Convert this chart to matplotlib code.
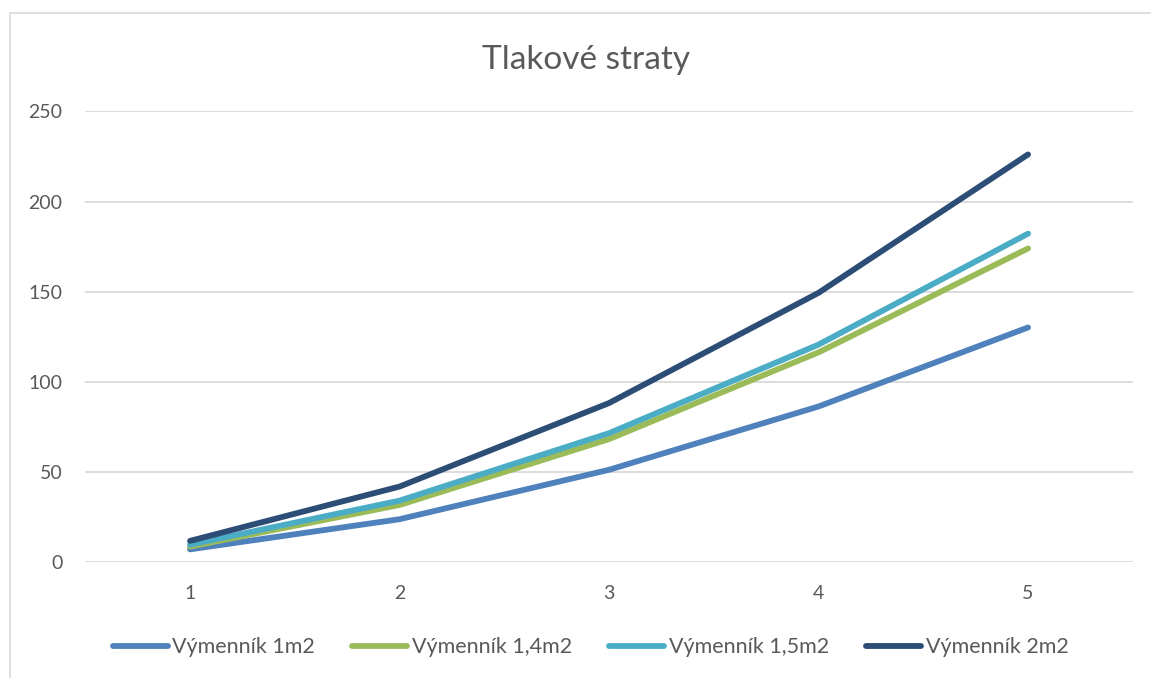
import numpy as np
import matplotlib
matplotlib.use("Agg")
import matplotlib.pyplot as plt
from matplotlib.patches import Rectangle

# data
categories = [1, 2, 3, 4, 5]
v_1m2 = [7.2, 23.9, 51.3, 86.4, 130.2]
v_14m2 = [8.7, 31.8, 68.3, 116.4, 174.0]
v_15m2 = [9.8, 34.2, 71.6, 120.7, 182.2]
v_2m2 = [11.9, 42.0, 88.3, 149.4, 226.1]
labels = ["Výmenník 1m2", "Výmenník 1,4m2", "Výmenník 1,5m2", "Výmenník 2m2"]
colors = ["#4F81BD", "#9BBB59", "#4BACC6", "#2C4D75"]

plt.rcParams['font.family'] = ['Lato', 'DejaVu Sans']
txt = "#595959"

fig = plt.figure(figsize=(11.51, 6.78), dpi=100)
# outer chart border
fig.patches.append(Rectangle((10 / 1151, -0.1), 1.2, 1 - 13 / 678 + 0.1,
                             transform=fig.transFigure, fill=False,
                             edgecolor="#D9D9D9", linewidth=1.2))

ax = fig.add_axes([0.0741, 0.1706, 0.9101, 0.6652])
x = np.arange(len(categories))
for vals, lab, c in zip([v_1m2, v_14m2, v_15m2, v_2m2], labels, colors):
    ax.plot(x, vals, color=c, linewidth=4.2, label=lab,
            solid_capstyle='round', solid_joinstyle='round')

ax.set_xlim(-0.5, len(categories) - 0.5)
ax.set_ylim(0, 250)
ax.set_yticks(range(0, 251, 50))
ax.set_xticks(x)
ax.set_xticklabels([str(c) for c in categories])
ax.grid(axis='y', color="#D9D9D9", linewidth=1.3)
ax.set_axisbelow(True)
for s in ax.spines.values():
    s.set_visible(False)
ax.tick_params(length=0, labelsize=14, colors=txt)
ax.tick_params(axis='y', pad=16.5)
ax.tick_params(axis='x', pad=16)

fig.text(0.509, 0.9115, "Tlakové straty", ha='center', va='center',
         fontsize=24, color=txt)

leg = fig.legend(loc='center', bbox_to_anchor=(0.513, 0.045), ncol=4,
                 frameon=False, fontsize=15.5, handlelength=2.55,
                 handletextpad=0.2, columnspacing=1.75)
for t in leg.get_texts():
    t.set_color(txt)

fig.savefig("out.png", dpi=100)
